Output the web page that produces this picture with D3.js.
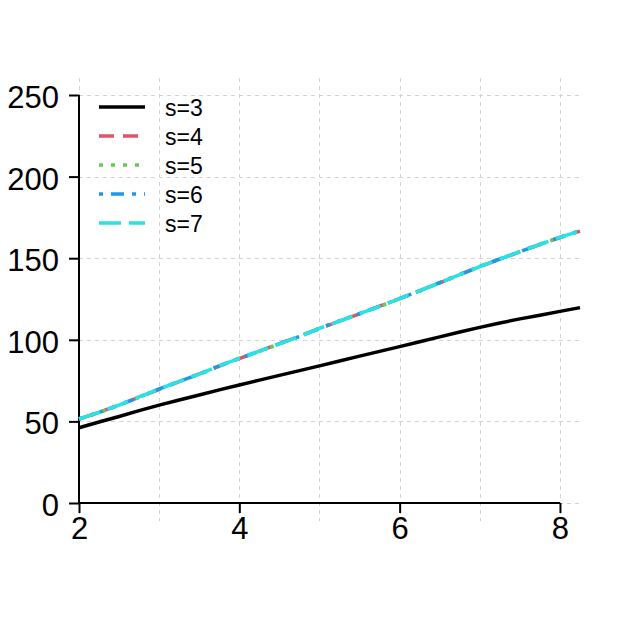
<!DOCTYPE html>
<html>
<head>
<meta charset="utf-8">
<script src="https://cdn.jsdelivr.net/npm/d3@7"></script>
<style>
  html, body { margin: 0; padding: 0; background: #fff; }
  svg { display: block; }
</style>
</head>
<body>
<div id="chart"></div>
<script>
const xValues = [2, 2.25, 2.5, 2.75, 3, 3.25, 3.5, 3.75, 4, 4.25, 4.5, 4.75, 5, 5.25, 5.5, 5.75, 6, 6.25, 6.5, 6.75, 7, 7.25, 7.5, 7.75, 8, 8.25];
const s3 = [46.1, 49.6, 53.0, 56.6, 60.0, 63.1, 66.2, 69.3, 72.3, 75.3, 78.2, 81.1, 84.0, 87.0, 90.0, 92.9, 95.8, 98.8, 101.8, 104.8, 107.6, 110.3, 112.8, 115.1, 117.4, 119.7];
const s4 = [51.4, 55.6, 60.1, 64.8, 69.6, 74.4, 79.1, 83.9, 88.5, 93.1, 97.7, 102.2, 106.9, 111.4, 115.9, 120.6, 125.3, 130.1, 134.9, 139.9, 144.8, 149.4, 153.9, 158.4, 162.7, 166.6];
const s5 = [51.6, 55.4, 60.0, 65.0, 69.8, 74.6, 79.0, 84.1, 88.7, 92.9, 97.5, 102.1, 107.1, 111.6, 116.1, 120.4, 125.1, 130.0, 135.1, 140.1, 144.9, 149.6, 154.1, 158.6, 162.9, 166.8];
const s6 = [51.5, 55.5, 59.9, 64.9, 69.9, 74.5, 78.9, 84.0, 88.6, 93.0, 97.6, 102.0, 107.0, 111.5, 116.0, 120.5, 125.2, 129.9, 135.0, 140.0, 145.0, 149.5, 154.0, 158.5, 162.8, 166.7];
const s7 = [51.5, 55.5, 60.0, 65.0, 69.8, 74.5, 79.0, 84.0, 88.6, 93.0, 97.5, 102.0, 107.0, 111.5, 116.0, 120.5, 125.2, 130.0, 135.0, 140.0, 144.9, 149.5, 154.0, 158.5, 162.8, 166.7];
const seriesNames = ["s=3", "s=4", "s=5", "s=6", "s=7"];
const seriesColors = ["#000000", "#DF536B", "#61D04F", "#2297E6", "#28E2E5"];
const seriesDash = ["none", "15,9", "4,8", "4,8,13,8", "22,8"];
const xTicks = [2, 4, 6, 8];
const xGrid = [2, 3, 4, 5, 6, 7, 8];
const yTicks = [0, 50, 100, 150, 200, 250];

const W = 620, H = 619;
const svg = d3.select("#chart").append("svg").attr("width", W).attr("height", H);
svg.append("rect").attr("width", W).attr("height", H).attr("fill", "#fff");

const x = d3.scaleLinear().domain([2, 8.25]).range([79, 580]);
const y = d3.scaleLinear().domain([0, 250]).range([503, 95]);
const font = "'Liberation Sans', Arial, sans-serif";
const px = v => Math.round(v) + 0.5;

// grid
const grid = svg.append("g").attr("stroke", "#d3d3d3").attr("stroke-width", 1)
  .attr("stroke-dasharray", "4,4").attr("shape-rendering", "crispEdges");
grid.selectAll("line.v").data(xGrid).join("line")
  .attr("x1", d => px(x(d))).attr("x2", d => px(x(d)))
  .attr("y1", y(260.5)).attr("y2", y(-11));
grid.selectAll("line.h").data(yTicks).join("line")
  .attr("x1", x(2)).attr("x2", x(8.25))
  .attr("y1", d => px(y(d))).attr("y2", d => px(y(d)));

// axes
const xAxis = d3.axisBottom(x).tickValues(xTicks).tickSize(10).tickPadding(4).tickFormat(d3.format("d"));
const yAxis = d3.axisLeft(y).tickValues(yTicks).tickSize(10).tickPadding(10).tickFormat(d3.format("d"));
const gx = svg.append("g").attr("transform", `translate(0,${y(0)})`).call(xAxis);
const gy = svg.append("g").attr("transform", `translate(${x(2)},0)`).call(yAxis);
[gx, gy].forEach(g => {
  g.select(".domain").attr("stroke", "#000").attr("stroke-width", 2);
  g.selectAll(".tick line").attr("stroke", "#000").attr("stroke-width", 2);
  g.selectAll(".tick text").attr("fill", "#000").style("font-family", font).style("font-size", "31px");
});
gx.select(".domain").attr("d", `M${x(2)},0H${x(8)}`);
gy.select(".domain").attr("d", `M0,${y(0)}V${y(250)}`);
gy.selectAll(".tick text").attr("dy", "0.4em");

// lines
const seriesData = [s3, s4, s5, s6, s7];
const line = d3.line().x((d, i) => x(xValues[i])).y(d => y(d));
seriesData.forEach((s, k) => {
  svg.append("path").datum(s)
    .attr("d", line)
    .attr("fill", "none")
    .attr("stroke", seriesColors[k])
    .attr("stroke-width", 3.5)
    .attr("stroke-dasharray", seriesDash[k]);
});

// legend
const lg = svg.append("g");
seriesNames.forEach((name, k) => {
  const yy = 107 + 29 * k;
  lg.append("line").attr("x1", 99).attr("x2", 145).attr("y1", yy).attr("y2", yy)
    .attr("stroke", seriesColors[k]).attr("stroke-width", 3.5)
    .attr("stroke-dasharray", seriesDash[k]);
  lg.append("text").attr("x", 165).attr("y", yy + 8.5).text(name)
    .attr("fill", "#000").style("font-family", font).style("font-size", "23px");
});
</script>
</body>
</html>
